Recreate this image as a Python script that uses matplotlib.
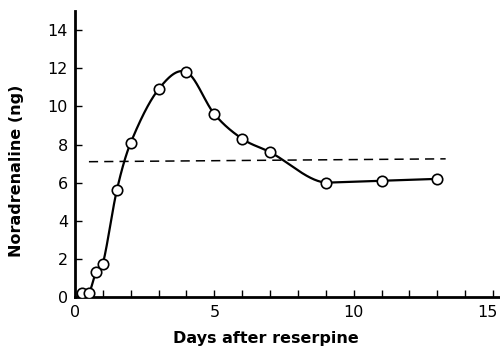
import numpy as np
import matplotlib
matplotlib.use("Agg")
import matplotlib.pyplot as plt
import matplotlib.transforms as mtransforms

# data
days = [0.25, 0.5, 0.75, 1.0, 1.5, 2.0, 3.0, 4.0, 5.0, 6.0, 7.0, 9.0, 11.0, 13.0]
noradrenaline = [0.2, 0.2, 1.3, 1.75, 5.6, 8.1, 10.9, 11.8, 9.6, 8.3, 7.6, 6.0, 6.1, 6.2]
control_x = [0.5, 13.3]
control_y = [7.1, 7.25]

xticks = [0, 5, 10, 15]
yticks = [0, 2, 4, 6, 8, 10, 12, 14]


def smooth(x, y, xs, flat_at=None):
    # cubic Hermite through the points, central-difference tangents
    x = np.asarray(x, float)
    y = np.asarray(y, float)
    h = np.diff(x)
    m = np.empty_like(y)
    m[1:-1] = (y[2:] - y[:-2]) / (x[2:] - x[:-2])
    m[0] = (y[1] - y[0]) / h[0]
    m[-1] = (y[-1] - y[-2]) / h[-1]
    if flat_at is not None:
        m[flat_at] *= 0.4  # hand-drawn curve levels off here
    idx = np.clip(np.searchsorted(x, xs) - 1, 0, len(x) - 2)
    t = (xs - x[idx]) / h[idx]
    h00 = 2 * t**3 - 3 * t**2 + 1
    h10 = t**3 - 2 * t**2 + t
    h01 = -2 * t**3 + 3 * t**2
    h11 = t**3 - t**2
    return h00 * y[idx] + h10 * h[idx] * m[idx] + h01 * y[idx + 1] + h11 * h[idx] * m[idx + 1]


plt.rcParams["font.family"] = ["DejaVu Sans"]
fig = plt.figure(figsize=(5, 3.55), dpi=100)
ax = fig.add_axes([0.15, 0.163, 0.85, 0.806])

# smooth curve up to day 9, straight segments after it
k9 = days.index(9.0)
xs = np.linspace(days[0], days[k9], 800)
ax.plot(xs, smooth(days, noradrenaline, xs, flat_at=k9), color="black", lw=1.6, zorder=2)
ax.plot(days[k9:], noradrenaline[k9:], color="black", lw=1.6, zorder=2)
ax.plot(days, noradrenaline, "o", ms=7.5, mfc="white", mec="black", mew=1.2, zorder=3)
ax.plot(control_x, control_y, color="black", lw=1.1, dashes=(6, 4), zorder=1)

ax.set_xlim(0, 15.25)
ax.set_ylim(0, 15)
for s in ("top", "right"):
    ax.spines[s].set_visible(False)
for s in ("left", "bottom"):
    ax.spines[s].set_linewidth(2.0)

ax.set_xticks(xticks)
ax.set_xticks(np.arange(0, 16, 1), minor=True)
ax.set_yticks(yticks)
ax.tick_params(which="both", direction="in", length=5, width=1.0, labelsize=11.5)
ax.tick_params(axis="x", pad=6)
ax.tick_params(axis="y", pad=5)

# last x label sits at the page edge; nudge it in so it isn't clipped
last = ax.get_xticklabels()[-1]
last.set_transform(last.get_transform() +
                   mtransforms.ScaledTranslation(-4 / 72, 0, fig.dpi_scale_trans))

ax.set_xlabel("Days after reserpine", fontsize=11.5, fontweight="bold")
ax.set_ylabel("Noradrenaline (ng)", fontsize=11.5, fontweight="bold")
ax.xaxis.set_label_coords(0.45, -0.12)
ax.yaxis.set_label_coords(-0.12, 0.44)

fig.savefig("out.png", dpi=100)
